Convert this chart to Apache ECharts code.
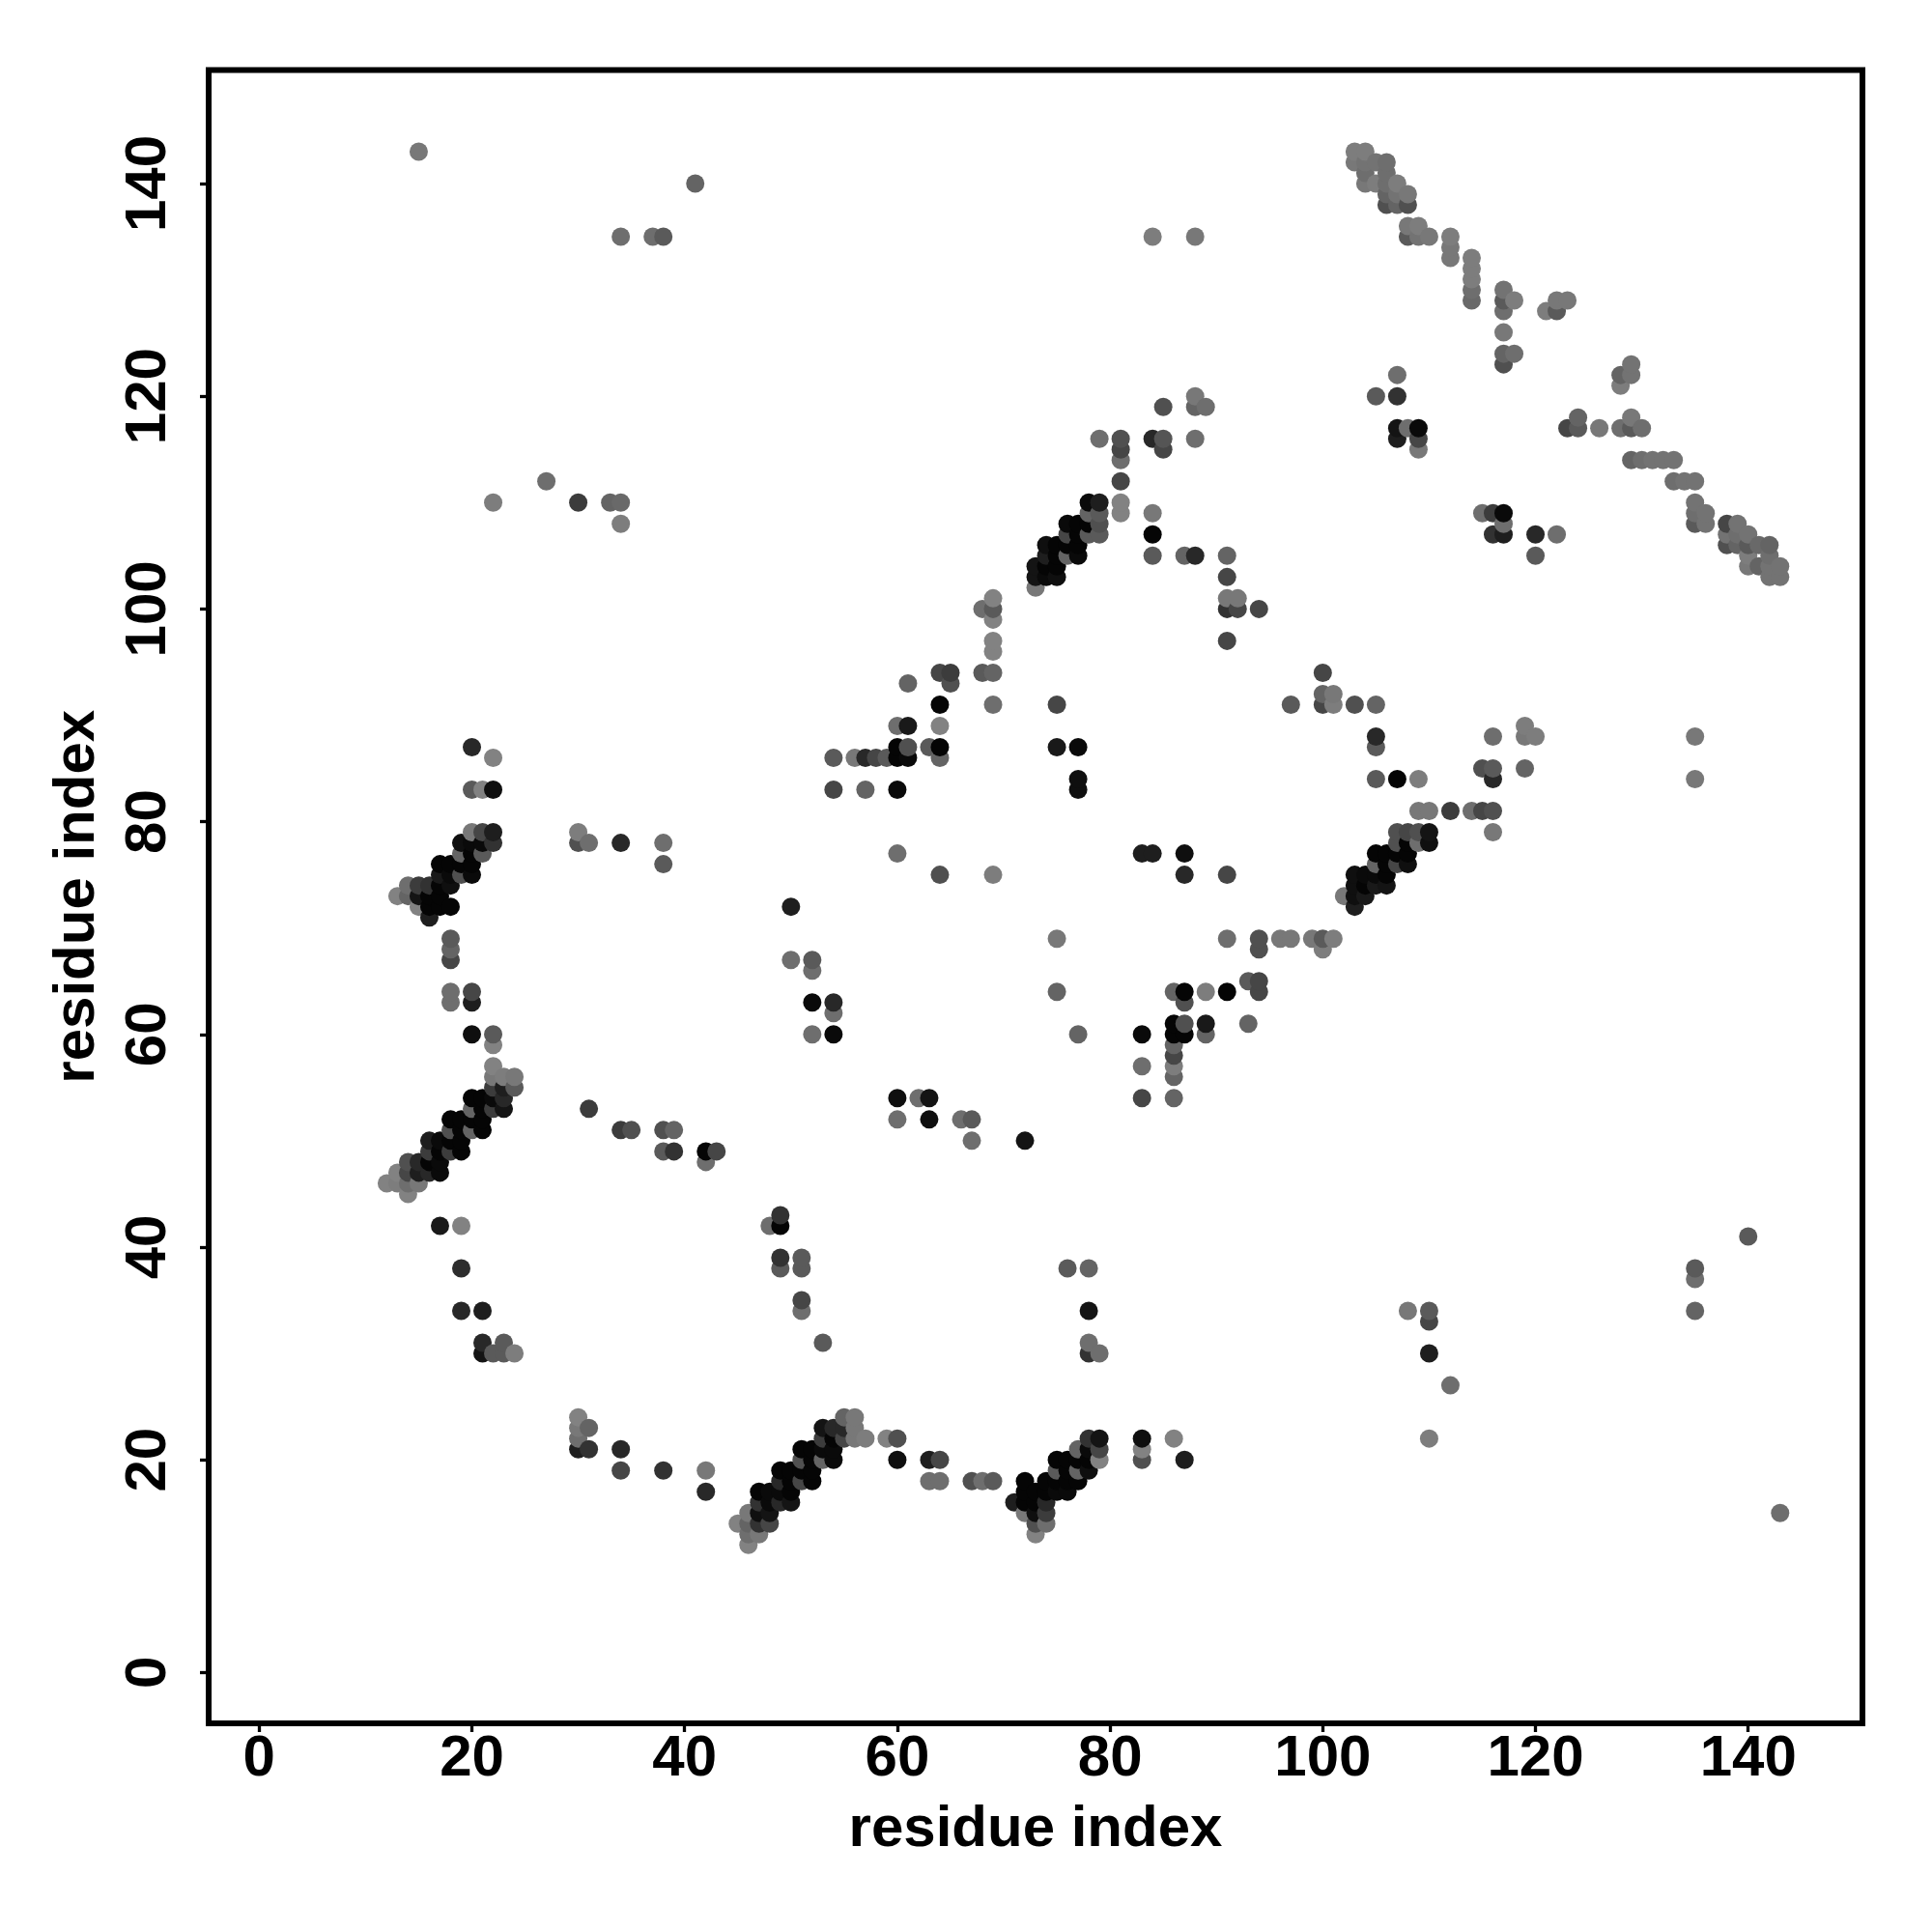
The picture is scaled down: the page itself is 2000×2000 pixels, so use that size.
<!DOCTYPE html>
<html><head><meta charset="utf-8">
<style>html,body{margin:0;padding:0;background:#fff}#c{width:2000px;height:2000px}</style>
<script src="https://cdn.jsdelivr.net/npm/echarts@6/dist/echarts.min.js"></script>
</head><body><div id="c"></div>
<script>
const axisTicks = [0,20,40,60,80,100,120,140];
const axisTitle = "residue index";
// one row per residue on the x axis: partner residues and their grey level
const residueX = [12,13,14,15,16,17,18,19,20,21,22,23,24,27,30,31,33,34,35,37,38,39,41,42,43,45,46,47,48,49,50,51,52,53,54,55,56,57,58,59,60,61,62,63,64,65,66,67,68,69,71,72,73,74,75,76,77,78,79,81,83,84,85,86,87,88,89,91,92,93,94,96,97,99,100,101,102,103,104,105,106,107,108,109,110,112,114,115,116,117,118,119,120,121,122,123,124,126,128,129,130,131,132,133,134,135,136,138,139,140,141,142,143];
const partnerY = [
[46],[46,47,73],[45,46,47,48,73,74],[46,47,48,72,73,74,143],[47,48,49,50,71,72,73,74],
[42,47,48,49,50,72,73,74,75,76],[49,50,51,52,63,64,67,68,69,72,74,75,76],[34,38,42,49,50,51,52,75,76,77,78],
[51,52,53,54,60,63,64,75,76,77,78,79,83,87],[30,31,34,51,52,53,54,77,78,79,83],[30,53,54,55,56,57,59,60,78,79,83,86,110],
[30,31,53,54,55,56],[30,55,56],[112],[21,22,23,24,78,79,110],[21,23,53,78],[110],[19,21,51,78,108,110,135],[51],[135],
[19,49,51,76,78,135],[49,51],[140],[17,19,48,49],[49],[14],[12,13,14,15],[13,14,15,16,17],[14,15,16,17,42],
[16,17,18,19,38,39,42,43],[16,17,18,19,67,72],[18,19,20,21,34,35,38,39],[18,19,20,21,60,63,66,67],[20,21,22,23,31],
[20,21,22,23,60,62,63,83,86],[22,23,24],[22,23,24,86],[22,83,86],[86],[22,86],[20,22,52,54,77,83,86,87,89],[86,87,89,93],[54],
[18,20,52,54,87],[18,20,75,86,87,89,91,94],[93,94],[52],[18,50,52],[18,94,100],[18,75,91,94,96,97,99,100,101],[16],
[15,16,17,18,50],[13,14,15,16,17,102,103,104],[14,15,16,17,18,103,104,105,106],[17,18,19,20,64,69,87,91,103,104,105,106],
[17,18,19,20,38,105,106,107,108],[18,19,20,21,60,83,84,87,105,106,107,108],[19,20,21,22,30,31,34,38,107,108,109,110],
[20,21,22,30,107,108,109,110,116],[109,110,112,114,115,116],[20,21,22,54,57,60,77],[77,105,107,109,116,135],[115,116,119],
[22,54,56,57,58,59,60,61,64],[20,60,61,63,64,75,77,105],[105,116,119,120,135],[60,61,64,119],[64,69,75,97,100,101,103,105],
[100,101],[61,65],[64,65,68,69,100],[69],[69,91],[69],[68,69,91,92,94],[69,91,92],[73],[72,73,74,75,91,142,143],
[73,74,75,140,141,142,143],[74,75,76,77,84,87,88,91,120,140,142],[74,75,76,77,138,139,140,141,142],
[76,77,78,79,84,116,117,120,122,138,139,140],[34,76,77,78,79,117,135,136,138,139],[78,79,81,84,115,116,117,135,136],
[22,30,33,34,78,79,81,135],[27,81,133,134,135],[81,129,130,131,132,133],[81,85,109],[79,81,84,85,88,107,109],
[107,108,109,123,124,126,128,129,130],[124,129],[85,88,89],[88,105,107],[128],[107,128,129],[117,129],[117,118],[117],
[117,121,122],[114,117,118,122,123],[114,117],[114],[114],[112,114],[112],[34,37,38,84,88,108,109,110,112],[108,109],
[106,107,108],[106,107,108],[41,104,105,106,107],[104,106],[103,104,105,106],[15,103,104]
];
const greyLevel = [
[130],[125,130,130],[130,110,70,80,100,110],[120,30,40,130,20,60,120],[40,5,60,30,30,5,5,50],
[25,10,10,5,10,5,5,5,25,5],[60,5,80,5,110,110,70,100,90,5,15,10,5],[40,45,130,5,5,5,5,80,5,100,15],
[100,5,100,5,15,30,70,10,5,5,10,120,90,40],[20,40,30,5,5,5,5,90,10,70,130],[90,60,10,60,120,130,130,90,50,30,15,130,125],
[90,90,20,40,30,125],[125,90,120],[110],[30,110,120,130,80,125,60],[50,100,60,110],[100],[70,40,60,40,125,105,110],[80],[110],
[50,90,80,90,110,90],[50,100],[100],[40,120,110,5],[70],[130],[130,110,100,120],[120,50,15,50,5],[70,20,10,10,110],
[40,10,40,5,90,50,5,50],[20,5,5,5,110,30],[70,5,80,5,110,70,90,90],[5,5,5,5,110,10,110,90],[100,10,60,20,90],
[10,10,5,40,10,110,40,70,90],[70,40,100],[120,120,120,120],[125,100,40],[70],[130,90],[15,80,110,15,110,10,5,5,110],[10,80,25,100],[110],
[110,30,15,20,90],[110,70,80,100,5,130,5,70],[80,60],[110],[80,110,90],[110,90,110],[90,125,110,100,130,130,130,90,130],[30],
[120,5,5,5,20],[130,80,15,5,5,120,20,20],[110,60,40,5,5,10,5,30,15],[10,5,90,5,100,120,25,70,15,5,5,5],
[10,5,5,5,90,100,5,70,10],[5,100,5,100,100,15,15,10,10,5,5,5],[15,5,10,50,50,110,20,100,90,5,100,10],
[130,70,20,110,90,80,90,30,110],[130,130,70,110,70,80],[80,130,15,70,110,10,30],[30,90,5,120,40,125],[70,85,80],
[130,100,100,125,70,100,5,5,100],[30,5,80,80,5,40,15,100],[40,110,100,120,120],[100,25,125,110],[5,110,70,70,50,120,70,100],
[70,120],[100,90],[70,70,80,80,70],[120],[120,90],[120],[125,90,70,100,70],[125,125,120],[120],[30,15,15,15,80,120,125],
[25,5,10,120,110,115,125],[25,10,100,5,90,90,40,100,90,125,115],[20,5,5,5,80,100,110,110,110],
[70,5,80,80,5,30,20,50,110,100,115,125],[120,15,5,5,70,110,90,120,80,120],[110,80,120,125,120,70,10,115,125],
[125,30,70,90,15,20,120,120],[110,60,120,120,125],[110,105,110,125,125,125],[70,80,110],[120,80,40,90,110,50,60],
[30,110,10,80,100,120,110,90,115],[110,125],[100,120,125],[125,90,40],[125],[110,90,120],[70,120],[90,100],[120],
[110,125,100],[100,90,120,115,115],[110,110],[115],[115],[110,115],[115],[100,110,90,120,120,90,110,115,115],[115,115],
[80,115,70],[100,110,115],[90,120,125,90,115],[100,105],[115,115,110,100],[110,115,115]
];
const table = [];
residueX.forEach((x, i) => partnerY[i].forEach((y, j) => table.push([x, y, greyLevel[i][j]])));
const chart = echarts.init(document.getElementById('c'), null, {renderer:'canvas'});
const font = {fontFamily:'"Liberation Sans"', fontWeight:'bold', fontSize:60, color:'#000'};
function axis(extra){
  return Object.assign({
    type:'value', splitLine:{show:false},
    axisLine:{show:false, onZero:false},
    axisTick:{show:true, length:9, lineStyle:{color:'#000', width:3.3}, customValues:axisTicks},
    name:axisTitle, nameLocation:'middle',
    nameTextStyle:Object.assign({}, font)
  }, extra);
}
chart.setOption({
  animation:false,
  backgroundColor:'#fff',
  grid:{left:216, top:72.5, width:1712, height:1711.5, show:true, borderColor:'#000', borderWidth:6, backgroundColor:'transparent'},
  xAxis:axis({min:-4.75, max:150.74, nameGap:80, axisLabel:Object.assign({customValues:axisTicks, margin:7.5}, font)}),
  yAxis:axis({min:-4.78, max:150.67, nameGap:106, axisLabel:Object.assign({customValues:axisTicks, margin:62, rotate:90, verticalAlign:'middle', align:'center'}, font)}),
  series:[{
    type:'scatter', symbol:'circle', symbolSize:19, large:false, silent:true,
    data:table,
    itemStyle:{opacity:1, color:p => { const g = p.data[2]; return `rgb(${g},${g},${g})`; }}
  }]
});
</script></body></html>
